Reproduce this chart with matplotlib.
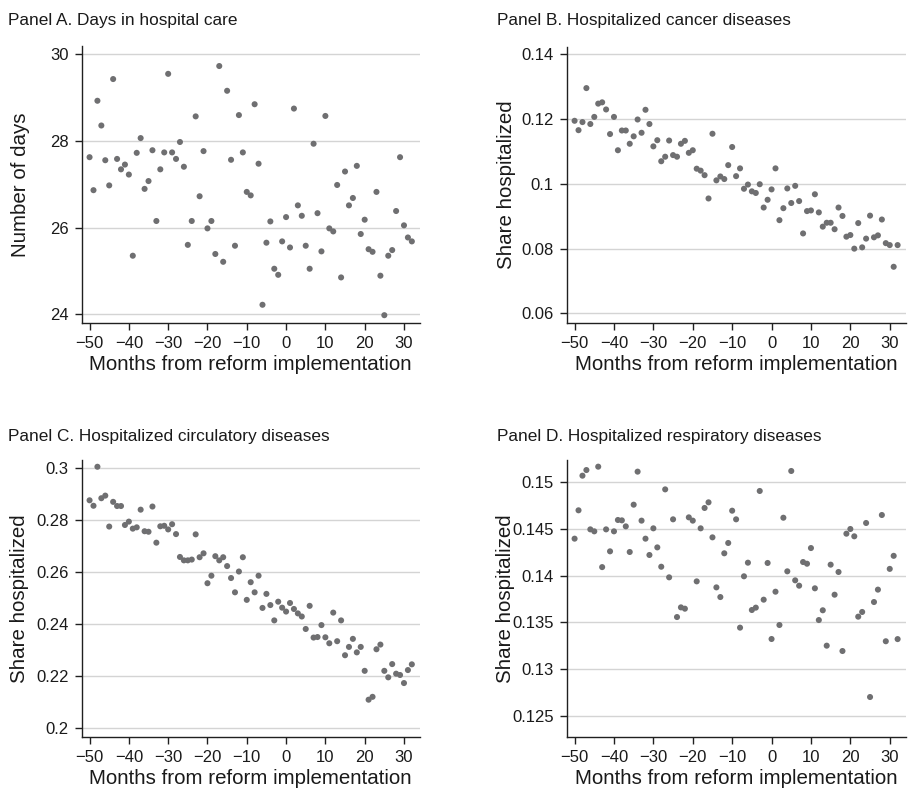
import matplotlib
matplotlib.use("Agg")
import matplotlib.pyplot as plt
import numpy as np

plt.rcParams['font.family'] = ['Liberation Sans', 'DejaVu Sans']

months = list(range(-50, 33))

days_a = [27.62, 26.86, 28.92, 28.35, 27.55, 26.97, 29.42, 27.58, 27.34, 27.45,
          27.22, 25.35, 27.72, 28.06, 26.89, 27.07, 27.78, 26.15, 27.34, 27.73,
          29.54, 27.73, 27.58, 27.97, 27.40, 25.60, 26.15, 28.56, 26.72, 27.76,
          25.98, 26.15, 25.39, 29.72, 25.21, 29.15, 27.56, 25.58, 28.59, 27.73,
          26.82, 26.74, 28.84, 27.47, 24.22, 25.65, 26.14, 25.05, 24.91, 25.68,
          26.24, 25.54, 28.74, 26.51, 26.27, 25.58, 25.05, 27.93, 26.33, 25.45,
          28.57, 25.98, 25.91, 26.98, 24.85, 27.29, 26.51, 26.68, 27.42, 25.85,
          26.18, 25.50, 25.44, 26.82, 24.89, 23.98, 25.35, 25.48, 26.38, 27.62,
          26.05, 25.77, 25.68]

cancer_b = [0.1195, 0.1166, 0.1191, 0.1296, 0.1185, 0.1207, 0.1248, 0.1252, 0.1230, 0.1154,
            0.1207, 0.1104, 0.1165, 0.1165, 0.1124, 0.1147, 0.1199, 0.1158, 0.1229, 0.1185,
            0.1116, 0.1135, 0.1070, 0.1084, 0.1134, 0.1089, 0.1084, 0.1124, 0.1133, 0.1096,
            0.1104, 0.1047, 0.1041, 0.1027, 0.0955, 0.1155, 0.1011, 0.1023, 0.1015, 0.1058,
            0.1114, 0.1024, 0.1048, 0.0985, 0.0998, 0.0977, 0.0972, 0.0999, 0.0927, 0.0951,
            0.0983, 0.1048, 0.0888, 0.0925, 0.0986, 0.0941, 0.0994, 0.0947, 0.0847, 0.0916,
            0.0918, 0.0968, 0.0912, 0.0868, 0.0880, 0.0880, 0.0860, 0.0927, 0.0901, 0.0837,
            0.0842, 0.0800, 0.0879, 0.0804, 0.0831, 0.0902, 0.0835, 0.0841, 0.0890, 0.0817,
            0.0811, 0.0744, 0.0811]

circ_c = [0.2877, 0.2856, 0.3006, 0.2885, 0.2895, 0.2776, 0.2871, 0.2855, 0.2855, 0.2782,
          0.2795, 0.2768, 0.2773, 0.2841, 0.2758, 0.2756, 0.2853, 0.2714, 0.2777, 0.2779,
          0.2765, 0.2785, 0.2747, 0.2659, 0.2646, 0.2646, 0.2649, 0.2746, 0.2658, 0.2673,
          0.2558, 0.2587, 0.2662, 0.2646, 0.2658, 0.2624, 0.2578, 0.2523, 0.2603, 0.2658,
          0.2494, 0.2562, 0.2523, 0.2587, 0.2463, 0.2517, 0.2474, 0.2415, 0.2487, 0.2464,
          0.2449, 0.2482, 0.2459, 0.2442, 0.2430, 0.2382, 0.2471, 0.2349, 0.2351, 0.2397,
          0.2350, 0.2327, 0.2445, 0.2335, 0.2415, 0.2281, 0.2313, 0.2344, 0.2292, 0.2313,
          0.2221, 0.2110, 0.2121, 0.2304, 0.2322, 0.2221, 0.2196, 0.2247, 0.2210, 0.2205,
          0.2174, 0.2224, 0.2246]

resp_d = [0.14393, 0.14695, 0.15064, 0.15124, 0.14492, 0.14471, 0.15160, 0.14090, 0.14492, 0.14258,
          0.14471, 0.14592, 0.14588, 0.14524, 0.14251, 0.14755, 0.15107, 0.14585, 0.14393, 0.14219,
          0.14503, 0.14300, 0.14094, 0.14918, 0.13981, 0.14599, 0.13558, 0.13661, 0.13647, 0.14620,
          0.14585, 0.13938, 0.14503, 0.14720, 0.14780, 0.14407, 0.13874, 0.13771, 0.14237, 0.14347,
          0.14691, 0.14599, 0.13445, 0.13992, 0.14137, 0.13633, 0.13658, 0.14901, 0.13743, 0.14134,
          0.13324, 0.13828, 0.13473, 0.14616, 0.14045, 0.15114, 0.13949, 0.13892, 0.14144, 0.14126,
          0.14293, 0.13864, 0.13526, 0.13630, 0.13253, 0.14116, 0.13796, 0.14038, 0.13196, 0.14446,
          0.14496, 0.14418, 0.13562, 0.13612, 0.14560, 0.12706, 0.13718, 0.13850, 0.14645, 0.13300,
          0.14071, 0.14210, 0.13323]

x_ticks = [-50, -40, -30, -20, -10, 0, 10, 20, 30]
x_ticklabels = ["\u221250", "\u221240", "\u221230", "\u221220", "\u221210", "0", "10", "20", "30"]

titles = ["Panel A. Days in hospital care",
          "Panel B. Hospitalized cancer diseases",
          "Panel C. Hospitalized circulatory diseases",
          "Panel D. Hospitalized respiratory diseases"]
ylabels = ["Number of days", "Share hospitalized", "Share hospitalized", "Share hospitalized"]
xlabel = "Months from reform implementation"

yticks_a = [24, 26, 28, 30]
yticklabels_a = ["24", "26", "28", "30"]
yticks_b = [0.06, 0.08, 0.10, 0.12, 0.14]
yticklabels_b = ["0.06", "0.08", "0.1", "0.12", "0.14"]
yticks_c = [0.20, 0.22, 0.24, 0.26, 0.28, 0.30]
yticklabels_c = ["0.2", "0.22", "0.24", "0.26", "0.28", "0.3"]
yticks_d = [0.125, 0.13, 0.135, 0.14, 0.145, 0.15]
yticklabels_d = ["0.125", "0.13", "0.135", "0.14", "0.145", "0.15"]

W, H = 913, 791
fig = plt.figure(figsize=(W / 100, H / 100), dpi=100)
fig.patch.set_facecolor("white")

def fx(px):
    return px / W

def fy(py):
    return 1 - py / H

# axes rectangles in pixels: (left, top, right, bottom)
rects = [(81.7, 46.5, 419.7, 323.0),
         (566.7, 46.5, 905.5, 323.0),
         (81.7, 460.0, 419.7, 737.0),
         (566.7, 460.0, 905.5, 737.0)]
ylims = [(23.8, 30.17), (0.05703, 0.14245), (0.19665, 0.3032), (0.1228, 0.15231)]
series = [days_a, cancer_b, circ_c, resp_d]
yt = [(yticks_a, yticklabels_a), (yticks_b, yticklabels_b),
      (yticks_c, yticklabels_c), (yticks_d, yticklabels_d)]
title_pos = [(8, 20), (497, 20), (8, 437), (497, 437)]
ylabel_px = [20, 506, 19, 505]
xlabel_py = [364, 364, 778, 778]

dot_color = "#6f6f71"
text_color = "#1a1a1a"

for i in range(4):
    l, t, r, b = rects[i]
    ax = fig.add_axes([fx(l), fy(b), fx(r) - fx(l), fy(t) - fy(b)])
    ax.set_xlim(-52, 34)
    ax.set_ylim(*ylims[i])
    ax.scatter(months, series[i], s=19, color=dot_color, edgecolors="none", zorder=3)
    ax.set_yticks(yt[i][0])
    ax.set_yticklabels(yt[i][1])
    ax.set_xticks(x_ticks)
    ax.set_xticklabels(x_ticklabels)
    ax.grid(axis="y", color="#d4d4d4", linewidth=1.0, zorder=0)
    ax.set_axisbelow(True)
    for s in ["top", "right"]:
        ax.spines[s].set_visible(False)
    for s in ["left", "bottom"]:
        ax.spines[s].set_color("#202020")
        ax.spines[s].set_linewidth(1.0)
    ax.tick_params(axis="both", direction="out", length=5, width=1.0, color="#202020",
                   labelsize=12, labelcolor=text_color, pad=4.5)
    ax.set_xlabel(xlabel, fontsize=14.8, color=text_color)
    ax.xaxis.set_label_coords(0.5, (b - xlabel_py[i]) / (b - t), transform=ax.transAxes)
    ax.xaxis.label.set_va("center")
    ax.set_ylabel(ylabels[i], fontsize=14.8, color=text_color)
    ax.yaxis.set_label_coords((ylabel_px[i] - l) / (r - l), 0.5, transform=ax.transAxes)
    ax.yaxis.label.set_va("center")
    fig.text(fx(title_pos[i][0]), fy(title_pos[i][1]), titles[i], fontsize=12.4,
             color=text_color, ha="left", va="center")

fig.savefig("out.png", dpi=100, facecolor="white")
